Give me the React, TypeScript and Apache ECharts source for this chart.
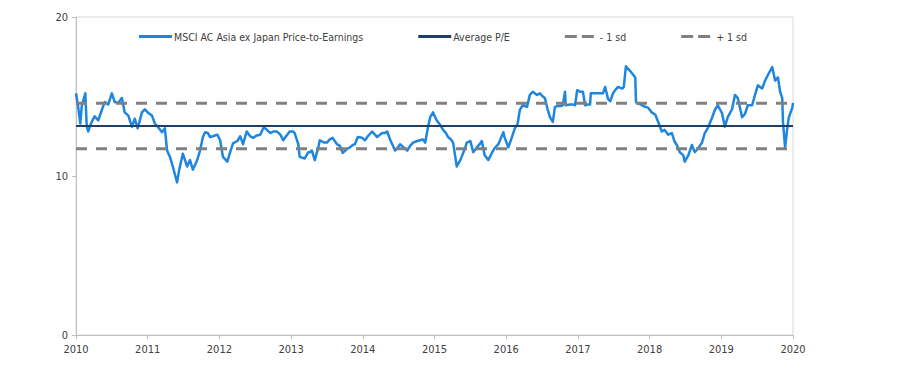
import React, { useEffect, useRef } from "react";
import * as echarts from "echarts";

// Decimal-year positions of the traced P/E points
const years: number[] = [
  2010.00, 2010.03, 2010.06, 2010.08, 2010.13, 2010.15, 2010.17, 2010.20, 2010.22, 2010.26,
  2010.31, 2010.36, 2010.40, 2010.45, 2010.50, 2010.54, 2010.59, 2010.64, 2010.68, 2010.73,
  2010.78, 2010.82, 2010.86, 2010.92, 2010.96, 2011.00, 2011.06, 2011.10, 2011.14, 2011.20,
  2011.24, 2011.27, 2011.31, 2011.35, 2011.41, 2011.44, 2011.49, 2011.55, 2011.59, 2011.63,
  2011.69, 2011.73, 2011.77, 2011.80, 2011.84, 2011.87, 2011.91, 2011.97, 2012.01, 2012.05,
  2012.11, 2012.15, 2012.19, 2012.25, 2012.29, 2012.33, 2012.38, 2012.43, 2012.47, 2012.52,
  2012.57, 2012.61, 2012.64, 2012.71, 2012.75, 2012.80, 2012.85, 2012.89, 2012.93, 2012.98,
  2013.03, 2013.05, 2013.10, 2013.12, 2013.19, 2013.24, 2013.26, 2013.29, 2013.33, 2013.38,
  2013.40, 2013.46, 2013.50, 2013.54, 2013.58, 2013.64, 2013.68, 2013.72, 2013.78, 2013.82,
  2013.86, 2013.89, 2013.93, 2013.99, 2014.03, 2014.07, 2014.13, 2014.17, 2014.20, 2014.24,
  2014.27, 2014.31, 2014.34, 2014.38, 2014.42, 2014.45, 2014.49, 2014.52, 2014.57, 2014.62,
  2014.66, 2014.70, 2014.76, 2014.80, 2014.84, 2014.87, 2014.91, 2014.94, 2014.98, 2015.01,
  2015.03, 2015.08, 2015.12, 2015.16, 2015.19, 2015.23, 2015.26, 2015.29, 2015.31, 2015.36,
  2015.40, 2015.43, 2015.45, 2015.50, 2015.54, 2015.59, 2015.63, 2015.66, 2015.70, 2015.75,
  2015.80, 2015.84, 2015.89, 2015.91, 2015.96, 2015.98, 2016.03, 2016.08, 2016.12, 2016.16,
  2016.19, 2016.23, 2016.29, 2016.33, 2016.37, 2016.43, 2016.47, 2016.51, 2016.54, 2016.58,
  2016.61, 2016.65, 2016.68, 2016.72, 2016.76, 2016.79, 2016.82, 2016.83, 2016.89, 2016.93,
  2016.96, 2016.99, 2017.03, 2017.07, 2017.10, 2017.14, 2017.17, 2017.18, 2017.24, 2017.31,
  2017.35, 2017.38, 2017.42, 2017.45, 2017.49, 2017.52, 2017.56, 2017.62, 2017.64, 2017.67,
  2017.73, 2017.80, 2017.81, 2017.87, 2017.94, 2017.98, 2018.03, 2018.08, 2018.12, 2018.17,
  2018.21, 2018.26, 2018.31, 2018.35, 2018.38, 2018.42, 2018.47, 2018.49, 2018.54, 2018.59,
  2018.63, 2018.67, 2018.73, 2018.77, 2018.81, 2018.87, 2018.91, 2018.95, 2019.01, 2019.05,
  2019.09, 2019.15, 2019.19, 2019.23, 2019.29, 2019.33, 2019.37, 2019.43, 2019.47, 2019.51,
  2019.57, 2019.61, 2019.65, 2019.71, 2019.75, 2019.79, 2019.82, 2019.85, 2019.86, 2019.89,
  2019.92, 2019.94, 2019.99, 2020.00,
];

// MSCI AC Asia ex Japan P/E values
const peValues: number[] = [
  15.2, 14.35, 13.3, 14.4, 15.2, 13.1, 12.8, 13.2, 13.4, 13.75,
  13.5, 14.15, 14.65, 14.5, 15.2, 14.65, 14.6, 14.9, 14.0, 13.8,
  13.1, 13.6, 13.0, 14.0, 14.2, 14.0, 13.8, 13.3, 13.1, 12.75,
  13.0, 11.6, 11.2, 10.6, 9.6, 10.4, 11.4, 10.6, 11.0, 10.4,
  11.0, 11.6, 12.45, 12.75, 12.7, 12.45, 12.5, 12.6, 12.25, 11.2,
  10.9, 11.5, 12.05, 12.2, 12.5, 12.0, 12.8, 12.5, 12.4, 12.55,
  12.6, 13.0, 13.0, 12.7, 12.8, 12.8, 12.6, 12.25, 12.5, 12.8,
  12.8, 12.7, 12.0, 11.2, 11.1, 11.5, 11.5, 11.6, 11.0, 11.8,
  12.25, 12.1, 12.1, 12.3, 12.4, 12.0, 11.9, 11.45, 11.7, 11.8,
  11.95, 12.0, 12.45, 12.4, 12.25, 12.5, 12.8, 12.6, 12.45, 12.6,
  12.7, 12.7, 12.8, 12.3, 11.9, 11.6, 11.8, 12.0, 11.8, 11.6,
  11.9, 12.1, 12.2, 12.25, 12.3, 12.1, 13.1, 13.7, 14.0, 13.7,
  13.5, 13.2, 12.9, 12.7, 12.45, 12.3, 12.1, 11.2, 10.6, 11.0,
  11.45, 11.8, 12.1, 12.2, 11.5, 11.8, 12.0, 12.2, 11.3, 11.0,
  11.45, 11.75, 12.0, 12.2, 12.75, 12.4, 11.8, 12.45, 13.0, 13.3,
  14.15, 14.45, 14.35, 15.1, 15.3, 15.1, 15.2, 15.0, 14.9, 14.15,
  13.7, 13.4, 14.35, 14.4, 14.4, 14.45, 15.3, 14.45, 14.5, 14.5,
  14.45, 15.4, 15.3, 15.3, 14.45, 14.5, 14.5, 15.2, 15.2, 15.2,
  15.2, 15.6, 14.85, 14.7, 15.2, 15.4, 15.6, 15.5, 15.6, 16.9,
  16.6, 16.2, 14.65, 14.5, 14.35, 14.3, 14.0, 13.85, 13.4, 12.8,
  12.9, 12.6, 12.7, 12.15, 11.95, 11.5, 11.3, 10.9, 11.3, 11.95,
  11.5, 11.7, 12.1, 12.7, 13.0, 13.65, 14.15, 14.45, 13.95, 13.1,
  13.7, 14.2, 15.1, 14.9, 13.7, 13.9, 14.45, 14.45, 15.1, 15.7,
  15.5, 16.0, 16.35, 16.85, 16.0, 16.2, 15.3, 14.9, 13.4, 11.8,
  13.0, 13.65, 14.3, 14.6,
];

const averagePE = 13.14;
const minusOneSd = 11.72;
const plusOneSd = 14.57;

const seriesNames: string[] = [
  "MSCI AC Asia ex Japan Price-to-Earnings",
  "Average P/E",
  "- 1 sd",
  "+ 1 sd",
];

const xRange: number[] = [2010, 2020];
const yTicks: number[] = [0, 10, 20];

const FONT = "'Liberation Sans Narrow', 'DejaVu Sans Condensed', 'Liberation Sans', sans-serif";

const SOLID_ICON = "path://M0,0H33V3H0Z";
const DASH_ICON = "path://M0,0H12V3H0Z M17,0H29V3H17Z M33,1.4H33.01V1.6H33Z";

export default function App() {
  const ref = useRef<HTMLDivElement>(null);

  useEffect(() => {
    document.body.style.margin = "0";
    if (!ref.current) return;
    const chart = echarts.init(ref.current, null, { renderer: "svg" });

    const peData = years.map((y, i) => [y, peValues[i]]);
    const flat = (v: number) => xRange.map((x) => [x, v]);
    const icons = [SOLID_ICON, SOLID_ICON, DASH_ICON, DASH_ICON];

    chart.setOption({
      animation: false,
      backgroundColor: "#ffffff",
      textStyle: { fontFamily: FONT },
      legend: {
        left: 134,
        top: 26,
        itemWidth: 33,
        itemHeight: 14,
        itemGap: 55,
        itemStyle: { borderWidth: 0 },
        textStyle: { fontSize: 10.5, color: "#404040", fontFamily: FONT, padding: [0, 0, 0, -3] },
        data: seriesNames.map((n, i) => ({ name: n, icon: icons[i] })),
      },
      grid: {
        left: 76,
        right: 113,
        top: 17,
        bottom: 44,
        show: true,
        borderColor: "#d9d9d9",
        borderWidth: 1,
      },
      xAxis: {
        type: "value",
        min: xRange[0],
        max: xRange[1],
        interval: 1,
        axisLine: { show: true, lineStyle: { color: "#bfbfbf", width: 1 } },
        axisTick: { show: true, length: 4, lineStyle: { color: "#bfbfbf" } },
        splitLine: { show: false },
        axisLabel: {
          fontSize: 11,
          color: "#404040",
          fontFamily: FONT,
          margin: 9,
          formatter: (v: number) => String(Math.round(v)),
        },
      },
      yAxis: {
        type: "value",
        min: yTicks[0],
        max: yTicks[yTicks.length - 1],
        interval: 10,
        axisLine: { show: true, lineStyle: { color: "#bfbfbf", width: 1 } },
        axisTick: { show: true, length: 4, lineStyle: { color: "#bfbfbf" } },
        splitLine: { show: false },
        axisLabel: { fontSize: 11, color: "#404040", fontFamily: FONT, margin: 8 },
      },
      series: [
        {
          name: seriesNames[0],
          type: "line",
          data: peData,
          symbol: "none",
          lineStyle: { color: "#1E86DE", width: 2.5, join: "round" },
          itemStyle: { color: "#1E86DE" },
          z: 2,
        },
        {
          name: seriesNames[1],
          type: "line",
          data: flat(averagePE),
          symbol: "none",
          lineStyle: { color: "#1F3F66", width: 2 },
          itemStyle: { color: "#1F3F66" },
          z: 3,
        },
        {
          name: seriesNames[2],
          type: "line",
          data: flat(minusOneSd),
          symbol: "none",
          lineStyle: { color: "#808080", width: 3, type: [11, 9], cap: "butt" },
          itemStyle: { color: "#808080" },
          z: 3,
        },
        {
          name: seriesNames[3],
          type: "line",
          data: flat(plusOneSd),
          symbol: "none",
          lineStyle: { color: "#808080", width: 3, type: [11, 9], cap: "butt" },
          itemStyle: { color: "#808080" },
          z: 3,
        },
      ],
    });

    return () => chart.dispose();
  }, []);

  return (
    <div
      ref={ref}
      style={{ position: "absolute", left: 0, top: 0, width: 906, height: 379 }}
    />
  );
}
